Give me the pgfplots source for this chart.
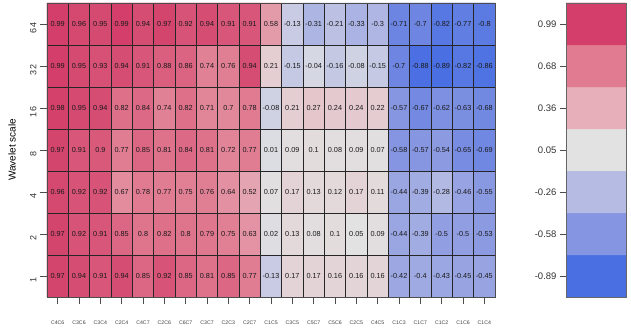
\documentclass[border=0pt]{standalone}
\usepackage{pgfplots}
\pgfplotsset{compat=1.18}
\usepackage{fontspec}
\setmainfont{Liberation Sans}
\pgfplotsset{
  dhcl/.style={colormap={dhcl}{rgb255(11pt)=(74,111,227) rgb255(42pt)=(133,149,225) rgb255(74pt)=(181,187,227) rgb255(105pt)=(226,226,226) rgb255(145pt)=(230,175,185) rgb255(178pt)=(224,123,145) rgb255(199pt)=(211,63,106)},
    point meta min=-0.89, point meta max=0.99},
}
\begin{document}
\begin{tikzpicture}
\path[use as bounding box] (0,0) rectangle (631pt,329pt);
\begin{axis}[
  at={(47pt,32pt)}, anchor=south west,
  scale only axis, width=448pt, height=294pt,
  dhcl,
  xmin=-0.5, xmax=20.5, ymin=-0.5, ymax=6.5,
  xtick={0,...,20},
  xticklabels={C4C6,C3C6,C3C4,C2C4,C4C7,C2C6,C6C7,C3C7,C2C3,C2C7,C1C5,C3C5,C5C7,C5C6,C2C5,C4C5,C1C3,C1C7,C1C2,C1C6,C1C4},
  ytick={0,...,6}, yticklabels={1,2,4,8,16,32,64},
  minor xtick={0.5,1.5,...,19.5}, minor ytick={0.5,1.5,...,5.5},
  xminorgrids, yminorgrids,
  minor grid style={black!85, line width=0.5pt},
  minor tick length=0pt, major tick length=7pt,
  tick align=outside, xtick pos=bottom, ytick pos=left,
  tick style={black!70, line width=0.5pt},
  axis line style={black!70, line width=0.5pt},
  axis on top,
  xticklabel style={font=\fontsize{5.2}{6}\selectfont, text=black!75, yshift=-13pt},
  yticklabel style={font=\fontsize{9}{10}\selectfont, text=black!80, rotate=90, anchor=south, xshift=-4pt},
  ylabel={Wavelet scale},
  ylabel style={font=\fontsize{11.5}{13}\selectfont, text=black!80},
  every axis y label/.style={at={(axis description cs:-0.078,0.5)}, rotate=90, anchor=center},
  /pgf/number format/assume math mode=true,
  /pgf/number format/fixed, /pgf/number format/precision=2,
  nodes near coords,
  every node near coord/.append style={font=\fontsize{7.3}{8}\selectfont, text=black!90, anchor=center, inner sep=0pt},
]
\addplot[matrix plot*, mesh/cols=21, point meta=explicit] coordinates {
(0,0)[0.97] (1,0)[0.94] (2,0)[0.91] (3,0)[0.94] (4,0)[0.85] (5,0)[0.92] (6,0)[0.85] (7,0)[0.81] (8,0)[0.85] (9,0)[0.77] (10,0)[-0.13] (11,0)[0.17] (12,0)[0.17] (13,0)[0.16] (14,0)[0.16] (15,0)[0.16] (16,0)[-0.42] (17,0)[-0.4] (18,0)[-0.43] (19,0)[-0.45] (20,0)[-0.45]
(0,1)[0.97] (1,1)[0.92] (2,1)[0.91] (3,1)[0.85] (4,1)[0.8] (5,1)[0.82] (6,1)[0.8] (7,1)[0.79] (8,1)[0.75] (9,1)[0.63] (10,1)[0.02] (11,1)[0.13] (12,1)[0.08] (13,1)[0.1] (14,1)[0.05] (15,1)[0.09] (16,1)[-0.44] (17,1)[-0.39] (18,1)[-0.5] (19,1)[-0.5] (20,1)[-0.53]
(0,2)[0.96] (1,2)[0.92] (2,2)[0.92] (3,2)[0.67] (4,2)[0.78] (5,2)[0.77] (6,2)[0.75] (7,2)[0.76] (8,2)[0.64] (9,2)[0.52] (10,2)[0.07] (11,2)[0.17] (12,2)[0.13] (13,2)[0.12] (14,2)[0.17] (15,2)[0.11] (16,2)[-0.44] (17,2)[-0.39] (18,2)[-0.28] (19,2)[-0.46] (20,2)[-0.55]
(0,3)[0.97] (1,3)[0.91] (2,3)[0.9] (3,3)[0.77] (4,3)[0.85] (5,3)[0.81] (6,3)[0.84] (7,3)[0.81] (8,3)[0.72] (9,3)[0.77] (10,3)[0.01] (11,3)[0.09] (12,3)[0.1] (13,3)[0.08] (14,3)[0.09] (15,3)[0.07] (16,3)[-0.58] (17,3)[-0.57] (18,3)[-0.54] (19,3)[-0.65] (20,3)[-0.69]
(0,4)[0.98] (1,4)[0.95] (2,4)[0.94] (3,4)[0.82] (4,4)[0.84] (5,4)[0.74] (6,4)[0.82] (7,4)[0.71] (8,4)[0.7] (9,4)[0.78] (10,4)[-0.08] (11,4)[0.21] (12,4)[0.27] (13,4)[0.24] (14,4)[0.24] (15,4)[0.22] (16,4)[-0.57] (17,4)[-0.67] (18,4)[-0.62] (19,4)[-0.63] (20,4)[-0.68]
(0,5)[0.99] (1,5)[0.95] (2,5)[0.93] (3,5)[0.94] (4,5)[0.91] (5,5)[0.88] (6,5)[0.86] (7,5)[0.74] (8,5)[0.76] (9,5)[0.94] (10,5)[0.21] (11,5)[-0.15] (12,5)[-0.04] (13,5)[-0.16] (14,5)[-0.08] (15,5)[-0.15] (16,5)[-0.7] (17,5)[-0.88] (18,5)[-0.89] (19,5)[-0.82] (20,5)[-0.86]
(0,6)[0.99] (1,6)[0.96] (2,6)[0.95] (3,6)[0.99] (4,6)[0.94] (5,6)[0.97] (6,6)[0.92] (7,6)[0.94] (8,6)[0.91] (9,6)[0.91] (10,6)[0.58] (11,6)[-0.13] (12,6)[-0.31] (13,6)[-0.21] (14,6)[-0.33] (15,6)[-0.3] (16,6)[-0.71] (17,6)[-0.7] (18,6)[-0.82] (19,6)[-0.77] (20,6)[-0.8]
};
\end{axis}
\begin{axis}[
  at={(566pt,32pt)}, anchor=south west,
  scale only axis, width=60pt, height=294pt,
  dhcl,
  xmin=-0.5, xmax=1.5, ymin=-0.5, ymax=6.5,
  xtick=\empty,
  ytick={0,...,6}, yticklabels={-0.89,-0.58,-0.26,0.05,0.36,0.68,0.99},
  ytick pos=left, tick align=outside, major tick length=6pt,
  tick style={black!70, line width=0.5pt},
  axis line style={black!60, line width=0.6pt},
  axis on top,
  yticklabel style={font=\fontsize{9.5}{10}\selectfont, text=black!80},
]
\addplot[matrix plot*, mesh/cols=2, point meta=explicit] coordinates {
(0,0)[-0.89] (1,0)[-0.89]
(0,1)[-0.58] (1,1)[-0.58]
(0,2)[-0.26] (1,2)[-0.26]
(0,3)[0.05] (1,3)[0.05]
(0,4)[0.45] (1,4)[0.45]
(0,5)[0.78] (1,5)[0.78]
(0,6)[0.99] (1,6)[0.99]
};
\end{axis}
\end{tikzpicture}
\end{document}
